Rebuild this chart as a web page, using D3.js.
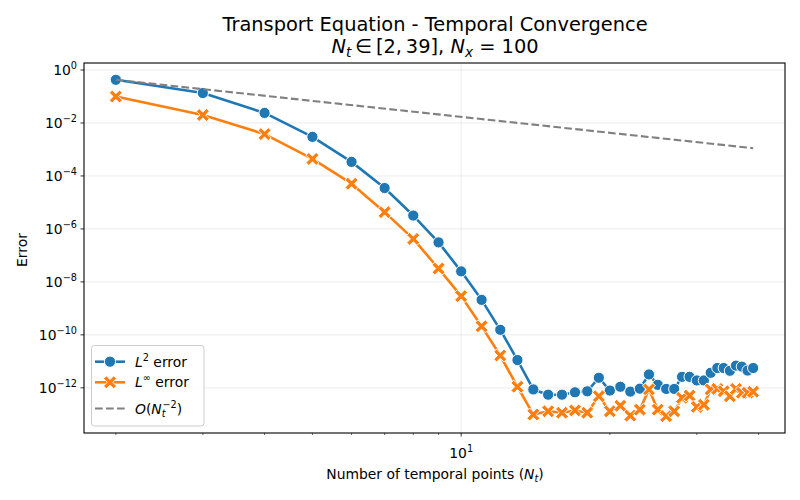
<!DOCTYPE html>
<html>
<head>
<meta charset="utf-8">
<script src="https://cdn.jsdelivr.net/npm/d3@7"></script>
<style>
  body { margin: 0; background: #fff; }
  svg { display: block; }
  text { font-family: "DejaVu Sans", sans-serif; fill: #000; }
</style>
</head>
<body>
<svg id="chart" width="800" height="500"></svg>
<script>
// values (log-log convergence plot)
const nt = [2, 3, 4, 5, 6, 7, 8, 9, 10, 11, 12, 13, 14, 15, 16, 17, 18, 19, 20, 21,
            22, 23, 24, 25, 26, 27, 28, 29, 30, 31, 32, 33, 34, 35, 36, 37, 38, 39];
const l2Err = [0.427, 0.135, 0.024, 3.0e-3, 3.4e-4, 3.5e-5, 3.2e-6, 3.1e-7, 2.5e-8, 2.1e-9,
               1.55e-10, 1.12e-11, 8.7e-13, 5.5e-13, 5.5e-13, 6.8e-13, 7.4e-13, 2.4e-12, 7.9e-13, 1.1e-12,
               7.2e-13, 9.3e-13, 3.2e-12, 1.3e-12, 9.1e-13, 9.1e-13, 2.6e-12, 2.6e-12, 1.9e-12, 1.9e-12,
               3.7e-12, 5.6e-12, 5.6e-12, 4.4e-12, 6.9e-12, 6.3e-12, 4.5e-12, 5.6e-12];
const linfErr = [0.1, 0.02, 3.8e-3, 4.4e-4, 5.1e-5, 4.3e-6, 4.2e-7, 3.2e-8, 2.9e-9, 2.1e-10,
                 1.66e-11, 1.1e-12, 9.8e-14, 1.3e-13, 1.15e-13, 1.4e-13, 1.15e-13, 4.8e-13, 1.3e-13, 2.1e-13,
                 8.9e-14, 1.5e-13, 8.7e-13, 1.5e-13, 8.5e-14, 1.3e-13, 4.2e-13, 5.1e-13, 1.9e-13, 2.3e-13,
                 8.7e-13, 9.1e-13, 7.4e-13, 4.8e-13, 9.1e-13, 6.5e-13, 6.5e-13, 7.1e-13];
// O(Nt^-2) reference line endpoints
const refNt  = [2, 39];
const refErr = [0.427, 1.12e-3];

const xMajorTicks = [10];
const xMinorTicks = [2, 3, 4, 5, 6, 7, 8, 9, 20, 30, 40];
const yTickExps   = [0, -2, -4, -6, -8, -10, -12];

const C_L2 = '#1f77b4', C_LINF = '#ff7f0e', C_REF = '#808080';

document.addEventListener('DOMContentLoaded', () => {
  const svg = d3.select('#chart');
  const m = { left: 84, right: 785, top: 63, bottom: 433 };

  // matplotlib style 5% margins in log space
  const logPad = (lo, hi) => {
    const a = Math.log10(lo), b = Math.log10(hi), p = (b - a) * 0.05;
    return [Math.pow(10, a - p), Math.pow(10, b + p)];
  };
  const allErr = l2Err.concat(linfErr, refErr);
  const x = d3.scaleLog().domain(logPad(d3.min(nt), d3.max(nt))).range([m.left, m.right]);
  const y = d3.scaleLog().domain(logPad(d3.min(allErr), d3.max(allErr))).range([m.bottom, m.top]);

  // grid
  const grid = svg.append('g').attr('stroke', '#b0b0b0').attr('stroke-opacity', 0.3).attr('stroke-width', 0.8);
  yTickExps.forEach(e => {
    const yy = y(Math.pow(10, e));
    grid.append('line').attr('x1', m.left).attr('x2', m.right).attr('y1', yy).attr('y2', yy);
  });
  xMajorTicks.forEach(v => {
    grid.append('line').attr('x1', x(v)).attr('x2', x(v)).attr('y1', m.top).attr('y2', m.bottom);
  });

  // x axis ticks
  const ax = svg.append('g');
  xMajorTicks.forEach(v => {
    ax.append('line').attr('x1', x(v)).attr('x2', x(v)).attr('y1', m.bottom).attr('y2', m.bottom + 3.5)
      .attr('stroke', '#000').attr('stroke-width', 0.8);
    const t = ax.append('text').attr('x', x(v)).attr('y', 457.5).attr('text-anchor', 'middle').style('font-size', '13.9px');
    t.append('tspan').text('10');
    t.append('tspan').attr('dy', -6).style('font-size', '9.7px').text(String(Math.round(Math.log10(v))));
  });
  xMinorTicks.forEach(v => {
    ax.append('line').attr('x1', x(v)).attr('x2', x(v)).attr('y1', m.bottom).attr('y2', m.bottom + 2)
      .attr('stroke', '#000').attr('stroke-width', 0.6);
  });

  // y axis ticks
  yTickExps.forEach(e => {
    const yy = y(Math.pow(10, e));
    ax.append('line').attr('x1', m.left - 3.5).attr('x2', m.left).attr('y1', yy).attr('y2', yy)
      .attr('stroke', '#000').attr('stroke-width', 0.8);
    const t = ax.append('text').attr('x', 77).attr('y', yy + 5.2).attr('text-anchor', 'end').style('font-size', '13.9px');
    t.append('tspan').text('10');
    t.append('tspan').attr('dy', -6).style('font-size', '9.7px').text(e < 0 ? '\u2212' + (-e) : String(e));
  });

  // series
  const line = d3.line().x(d => x(d[0])).y(d => y(d[1]));
  const xMarker = (a, w) => {
    const pts = [[-w,-a],[w,-a],[w,-w],[a,-w],[a,w],[w,w],[w,a],[-w,a],[-w,w],[-a,w],[-a,-w],[-w,-w]];
    const r = Math.SQRT1_2;
    return 'M' + pts.map(p => [(p[0] - p[1]) * r, (p[0] + p[1]) * r].map(n => n.toFixed(2)).join(',')).join('L') + 'Z';
  };
  const X_PATH = xMarker(7.2, 2.0);

  const plot = svg.append('g');
  const l2Pts = nt.map((n, i) => [n, l2Err[i]]);
  const linfPts = nt.map((n, i) => [n, linfErr[i]]);

  plot.append('path').datum(l2Pts).attr('d', line).attr('fill', 'none')
    .attr('stroke', C_L2).attr('stroke-width', 2.6).attr('stroke-linejoin', 'round');
  plot.append('g').selectAll('circle').data(l2Pts).join('circle')
    .attr('cx', d => x(d[0])).attr('cy', d => y(d[1])).attr('r', 5.6)
    .attr('fill', C_L2).attr('stroke', '#fff').attr('stroke-width', 1);

  plot.append('path').datum(linfPts).attr('d', line).attr('fill', 'none')
    .attr('stroke', C_LINF).attr('stroke-width', 2.6).attr('stroke-linejoin', 'round');
  plot.append('g').selectAll('path').data(linfPts).join('path')
    .attr('transform', d => `translate(${x(d[0])},${y(d[1])})`).attr('d', X_PATH)
    .attr('fill', C_LINF).attr('stroke', '#fff').attr('stroke-width', 1);

  plot.append('path').datum(refNt.map((n, i) => [n, refErr[i]])).attr('d', line).attr('fill', 'none')
    .attr('stroke', C_REF).attr('stroke-width', 2.1).attr('stroke-dasharray', '7.7,3.3');

  // frame
  svg.append('rect').attr('x', m.left).attr('y', m.top)
    .attr('width', m.right - m.left).attr('height', m.bottom - m.top)
    .attr('fill', 'none').attr('stroke', '#000').attr('stroke-width', 1.1);

  // titles & labels
  svg.append('text').attr('x', 435).attr('y', 30.5).attr('text-anchor', 'middle').style('font-size', '19.4px')
    .text('Transport Equation - Temporal Convergence');
  const t2 = svg.append('text').attr('x', 435).attr('y', 52.5).attr('text-anchor', 'middle').style('font-size', '19.4px');
  t2.append('tspan').style('font-style', 'italic').text('N');
  t2.append('tspan').attr('dy', 4).style('font-size', '13.6px').style('font-style', 'italic').text('t');
  t2.append('tspan').attr('dy', -4).text('\u2009\u2208\u2009[2,\u200939], ');
  t2.append('tspan').style('font-style', 'italic').text('N');
  t2.append('tspan').attr('dy', 4).style('font-size', '13.6px').style('font-style', 'italic').text('x');
  t2.append('tspan').attr('dy', -4).text(' = 100');

  const xl = svg.append('text').attr('x', 435).attr('y', 479).attr('text-anchor', 'middle').style('font-size', '13.9px');
  xl.append('tspan').text('Number of temporal points (');
  xl.append('tspan').style('font-style', 'italic').text('N');
  xl.append('tspan').attr('dy', 3).style('font-size', '9.7px').style('font-style', 'italic').text('t');
  xl.append('tspan').attr('dy', -3).text(')');

  svg.append('text').attr('transform', 'translate(26.5,250) rotate(-90)').attr('text-anchor', 'middle')
    .style('font-size', '13.9px').text('Error');

  // legend
  const lg = svg.append('g');
  lg.append('rect').attr('x', 91.5).attr('y', 345.5).attr('width', 112.5).attr('height', 80.5).attr('rx', 3)
    .attr('fill', '#fff').attr('fill-opacity', 0.8).attr('stroke', '#cccccc').attr('stroke-width', 1);
  const rows = [361.7, 382.3, 408.5];
  lg.append('line').attr('x1', 95).attr('x2', 125).attr('y1', rows[0]).attr('y2', rows[0])
    .attr('stroke', C_L2).attr('stroke-width', 2.6);
  lg.append('circle').attr('cx', 110).attr('cy', rows[0]).attr('r', 5.6)
    .attr('fill', C_L2).attr('stroke', '#fff').attr('stroke-width', 1);
  lg.append('line').attr('x1', 95).attr('x2', 125).attr('y1', rows[1]).attr('y2', rows[1])
    .attr('stroke', C_LINF).attr('stroke-width', 2.6);
  lg.append('path').attr('transform', `translate(110,${rows[1]})`).attr('d', X_PATH)
    .attr('fill', C_LINF).attr('stroke', '#fff').attr('stroke-width', 1);
  lg.append('line').attr('x1', 95).attr('x2', 125).attr('y1', rows[2]).attr('y2', rows[2])
    .attr('stroke', C_REF).attr('stroke-width', 2.1).attr('stroke-dasharray', '7.7,3.3');

  const lt1 = lg.append('text').attr('x', 135).attr('y', rows[0] + 5).style('font-size', '13.9px');
  lt1.append('tspan').style('font-style', 'italic').text('L');
  lt1.append('tspan').attr('dy', -6).style('font-size', '9.7px').text('2');
  lt1.append('tspan').attr('dy', 6).text(' error');
  const lt2 = lg.append('text').attr('x', 135).attr('y', rows[1] + 5).style('font-size', '13.9px');
  lt2.append('tspan').style('font-style', 'italic').text('L');
  lt2.append('tspan').attr('dy', -6).style('font-size', '9.7px').text('\u221e');
  lt2.append('tspan').attr('dy', 6).text(' error');
  const lt3 = lg.append('text').attr('x', 135).attr('y', rows[2] + 5).style('font-size', '13.9px');
  lt3.append('tspan').style('font-style', 'italic').text('O');
  lt3.append('tspan').text('(');
  lt3.append('tspan').style('font-style', 'italic').text('N');
  lt3.append('tspan').attr('dy', 3.5).style('font-size', '9.7px').style('font-style', 'italic').text('t');
  lt3.append('tspan').attr('dx', -3.2).attr('dy', -9.5).style('font-size', '9.7px').text('\u22122');
  lt3.append('tspan').attr('dy', 6).text(')');
});
</script>
</body>
</html>
